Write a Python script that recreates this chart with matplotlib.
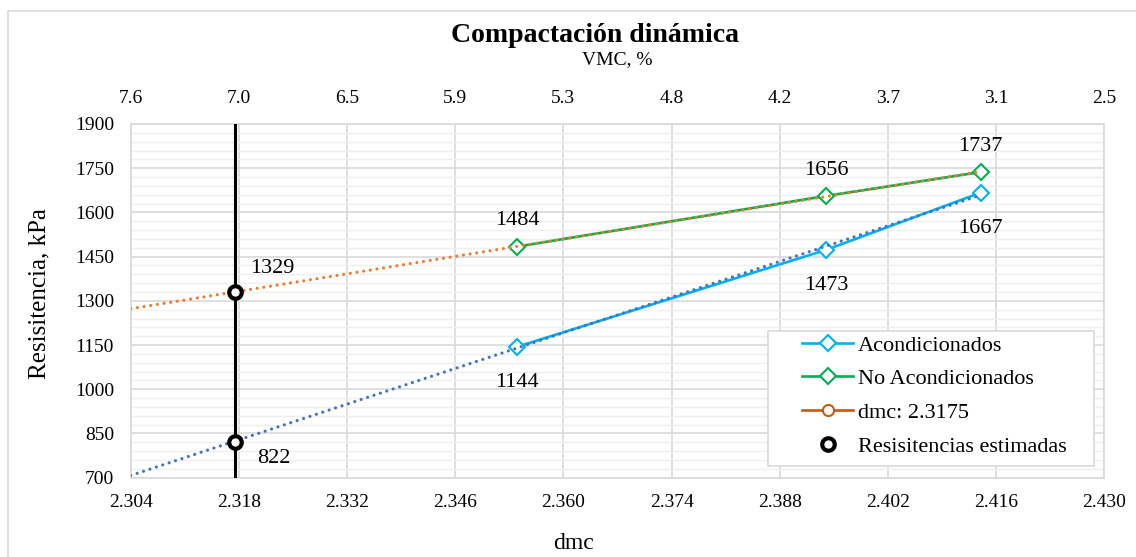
import matplotlib as mpl
import matplotlib.pyplot as plt
from matplotlib.lines import Line2D
from matplotlib.patches import Rectangle
import numpy as np

# Data for plotting
dmc = [2.354, 2.394, 2.414]
acond = [1144, 1473, 1667]
no_acond = [1484, 1656, 1737]

dmc_target = 2.3175
est_res = [1329, 822]

x_ticks = [2.304, 2.318, 2.332, 2.346, 2.360, 2.374, 2.388, 2.402, 2.416, 2.430]
vmc_labels = ['7.6', '7.0', '6.5', '5.9', '5.3', '4.8', '4.2', '3.7', '3.1', '2.5']
y_ticks = [700, 850, 1000, 1150, 1300, 1450, 1600, 1750, 1900]

mpl.rcParams['font.family'] = ['Liberation Serif', 'DejaVu Serif']

c_acond = '#00B0F0'
c_noacond = '#00B050'
c_trend_a = '#4472C4'
c_trend_n = '#ED7D31'
c_grid = '#D9D9D9'

fig = plt.figure(figsize=(11.36, 5.57), dpi=100)
ax = fig.add_axes([130.7/1136, 1 - 477.7/557, (1104.3 - 130.7)/1136, (477.7 - 124)/557])

# chart border
fig.patches.append(Rectangle((8/1136, -0.1), 1.2, 1 - 11/557 + 0.1, transform=fig.transFigure,
                             fill=False, edgecolor=c_grid, lw=1.2))

# linear trendlines through each series
xs = np.array([x_ticks[0], dmc[-1]])
pa = np.polyfit(dmc, acond, 1)
pn = np.polyfit(dmc, no_acond, 1)
dots = (0, (0.01, 2.1))
ax.plot(xs, np.polyval(pa, xs), ls=dots, color=c_trend_a, lw=2.3, dash_capstyle='round', zorder=4)
ax.plot(xs, np.polyval(pn, xs), ls=dots, color=c_trend_n, lw=2.3, dash_capstyle='round', zorder=4)

ax.plot(dmc, acond, color=c_acond, lw=1.9, marker='D', ms=8.5, mfc='white', mew=1.5, zorder=3)
ax.plot(dmc, no_acond, color=c_noacond, lw=1.9, marker='D', ms=8.5, mfc='white', mew=1.5, zorder=3)

ax.axvline(dmc_target, color='black', lw=2.2, zorder=5)
ax.plot([dmc_target] * len(est_res), est_res, ls='none', marker='o', ms=9, mfc='white',
        mec='black', mew=3, zorder=6)

# value labels
lbl = dict(fontsize=16, ha='center', va='center', textcoords='offset points')
for x, y in zip(dmc, acond):
    ax.annotate(str(y), (x, y), xytext=(0, -25.5), **lbl)
for x, y in zip(dmc, no_acond):
    ax.annotate(str(y), (x, y), xytext=(0, 18.5), **lbl)
ax.annotate(str(est_res[0]), (dmc_target, est_res[0]), xytext=(27, 17), **lbl)
ax.annotate(str(est_res[1]), (dmc_target, est_res[1]), xytext=(28, -12), **lbl)

ax.set_xlim(x_ticks[0], x_ticks[-1])
ax.set_ylim(y_ticks[0], y_ticks[-1])
ax.set_xticks(x_ticks, [f'{t:.3f}' for t in x_ticks])
ax.set_yticks(y_ticks)
ax.set_yticks(np.arange(700, 1901, 30), minor=True)
ax.grid(which='major', color=c_grid, lw=1.2)
ax.grid(which='minor', axis='y', color='#EFEFEF', lw=1.0)
ax.set_axisbelow(True)
ax.tick_params(which='both', length=0, labelsize=14)
ax.tick_params(axis='x', pad=12)
ax.tick_params(axis='y', pad=12)
for s in ax.spines.values():
    s.set_color(c_grid)
    s.set_linewidth(1.2)

top = ax.secondary_xaxis('top')
top.set_xticks(x_ticks, vmc_labels)
top.tick_params(length=0, labelsize=14, pad=12)
top.spines['top'].set_visible(False)
top.set_xlabel('VMC, %', fontsize=14, labelpad=19)

ax.set_xlabel('dmc', fontsize=17)
ax.xaxis.set_label_coords((573 - 130.7) / 973.6, -0.155)
ax.set_ylabel('Resisitencia, kPa', fontsize=18)
ax.yaxis.set_label_coords((50 - 130.7) / 973.6, (477.7 - 293.5) / 353.7)
fig.text(595/1136, 1 - 35/557, 'Compactación dinámica', fontsize=20, fontweight='bold',
         ha='center', va='center')

handles = [
    Line2D([], [], color=c_acond, lw=1.9, marker='D', ms=8.5, mfc='white', mew=1.5),
    Line2D([], [], color=c_noacond, lw=1.9, marker='D', ms=8.5, mfc='white', mew=1.5),
    Line2D([], [], color='#C55A11', lw=1.9, marker='o', ms=8, mfc='white', mew=1.5),
    Line2D([], [], ls='none', marker='o', ms=9, mfc='white', mec='black', mew=3),
]
labels = ['Acondicionados', 'No Acondicionados', 'dmc: 2.3175', 'Resisitencias estimadas']

# legend frame drawn separately to get the wider left margin
ax.add_patch(Rectangle((0.6546, 0.0331), 0.3348, 0.3817, transform=ax.transAxes,
                       facecolor='white', edgecolor=c_grid, lw=1.2, zorder=7))
leg = ax.legend(handles, labels, loc='upper left', bbox_to_anchor=(0.6896, 0.4034),
                fontsize=16, handlelength=2.3, handletextpad=0.2, labelspacing=0.59,
                borderpad=0, borderaxespad=0, frameon=False)
leg.set_zorder(8)

fig.savefig('out.png', dpi=100)
